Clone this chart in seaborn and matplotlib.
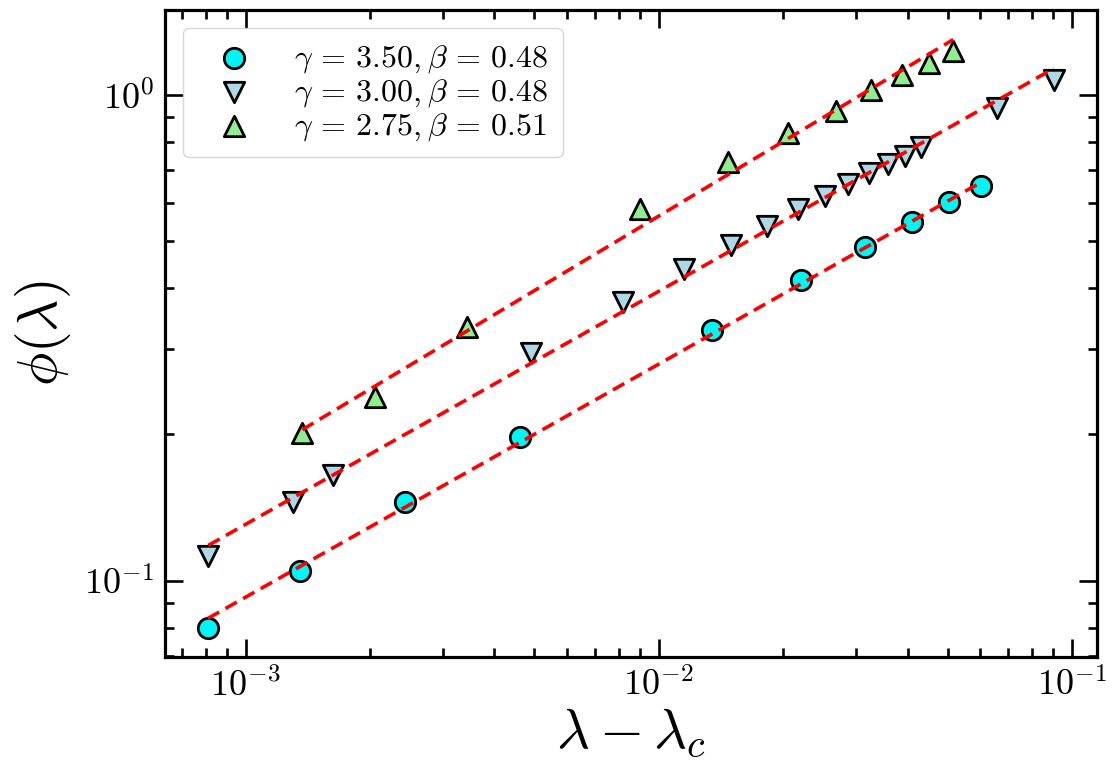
import numpy as np
import pandas as pd
import matplotlib
matplotlib.use("Agg")
import matplotlib.pyplot as plt
import matplotlib.ticker as mticker
import seaborn as sns

# --- du lieu doc tu hinh ---
x_g350 = [8.1e-4, 1.35e-3, 2.43e-3, 4.61e-3, 1.342e-2, 2.21e-2, 3.15e-2, 4.09e-2, 5.04e-2, 6.02e-2]
y_g350 = [0.0800, 0.1048, 0.1455, 0.1973, 0.3278, 0.4154, 0.4871, 0.5469, 0.6020, 0.6496]

x_g300 = [8.12e-4, 1.299e-3, 1.624e-3, 4.895e-3, 8.20e-3, 1.152e-2, 1.492e-2, 1.830e-2, 2.175e-2,
          2.523e-2, 2.874e-2, 3.230e-2, 3.585e-2, 3.951e-2, 4.308e-2, 6.597e-2, 9.042e-2]
y_g300 = [0.1126, 0.1455, 0.1651, 0.2938, 0.3754, 0.4377, 0.4911, 0.5381, 0.5815,
          0.6194, 0.6559, 0.6910, 0.7212, 0.7508, 0.7815, 0.9389, 1.074]

x_g275 = [1.371e-3, 2.055e-3, 3.433e-3, 9.0e-3, 1.472e-2, 2.053e-2, 2.683e-2, 3.256e-2, 3.886e-2, 4.512e-2, 5.159e-2]
y_g275 = [0.2018, 0.2392, 0.3334, 0.5815, 0.7279, 0.8351, 0.9270, 1.024, 1.0995, 1.166, 1.235]

betas = [0.48, 0.48, 0.51]
labels = [r'$\gamma\,=\,3.50, \beta\,=\,0.48$',
          r'$\gamma\,=\,3.00, \beta\,=\,0.48$',
          r'$\gamma\,=\,2.75, \beta\,=\,0.51$']
markers = ['o', 'v', '^']
colors = ['#00F5F5', 'lightblue', 'lightgreen']

sns.set_style("ticks")
plt.rcParams['font.family'] = ['DejaVu Serif']
plt.rcParams['mathtext.fontset'] = 'cm'
plt.rcParams['axes.edgecolor'] = 'black'
plt.rcParams['text.color'] = 'black'
plt.rcParams['axes.labelcolor'] = 'black'
plt.rcParams['xtick.color'] = 'black'
plt.rcParams['ytick.color'] = 'black'

fig = plt.figure(figsize=(11.19, 7.80), dpi=100)
ax = fig.add_axes([0.1475, 0.158, 0.8328, 0.829])

series = [(x_g350, y_g350), (x_g300, y_g300), (x_g275, y_g275)]

for (xs, ys), lab, mk, col in zip(series, labels, markers, colors):
    sns.scatterplot(x=xs, y=ys, ax=ax, marker=mk, color=col, s=215,
                    edgecolor='black', linewidth=2.0, label=lab, zorder=2)

# duong fit: y = A * x^beta, A tinh tu du lieu voi beta co dinh
for (xs, ys), b in zip(series, betas):
    xs = np.array(xs)
    ys = np.array(ys)
    logA = np.mean(np.log10(ys) - b * np.log10(xs))
    xf = np.array([xs[0], xs[-1]])
    yf = 10 ** logA * xf ** b
    ax.plot(xf, yf, color='red', linestyle='--', linewidth=2.6, dashes=(3.6, 2.0), zorder=3)

ax.set_xscale('log')
ax.set_yscale('log')
ax.set_xlim(6.38e-4, 0.1149)
ax.set_ylim(0.0697, 1.496)

fmt = mticker.FuncFormatter(lambda v, p: r'$10^{%d}$' % int(round(np.log10(v))))
ax.xaxis.set_major_formatter(fmt)
ax.yaxis.set_major_formatter(fmt)
ax.xaxis.set_minor_formatter(mticker.NullFormatter())
ax.yaxis.set_minor_formatter(mticker.NullFormatter())

ax.tick_params(which='both', direction='in', top=True, right=True, width=1.9, labelsize=26, pad=8)
ax.tick_params(which='major', length=13)
ax.tick_params(which='minor', length=6.5)
for sp in ax.spines.values():
    sp.set_linewidth(2.3)

ax.set_xlabel(r'$\lambda - \lambda_c$', fontsize=41, labelpad=0)
ax.set_ylabel(r'$\phi(\lambda)$', fontsize=40, labelpad=8)

ax.legend(loc='upper left', fontsize=23, frameon=True, handlelength=2.3, handletextpad=0.75,
          labelspacing=0.05, borderaxespad=0.55, borderpad=0.45)

fig.savefig('out.png', dpi=100)
